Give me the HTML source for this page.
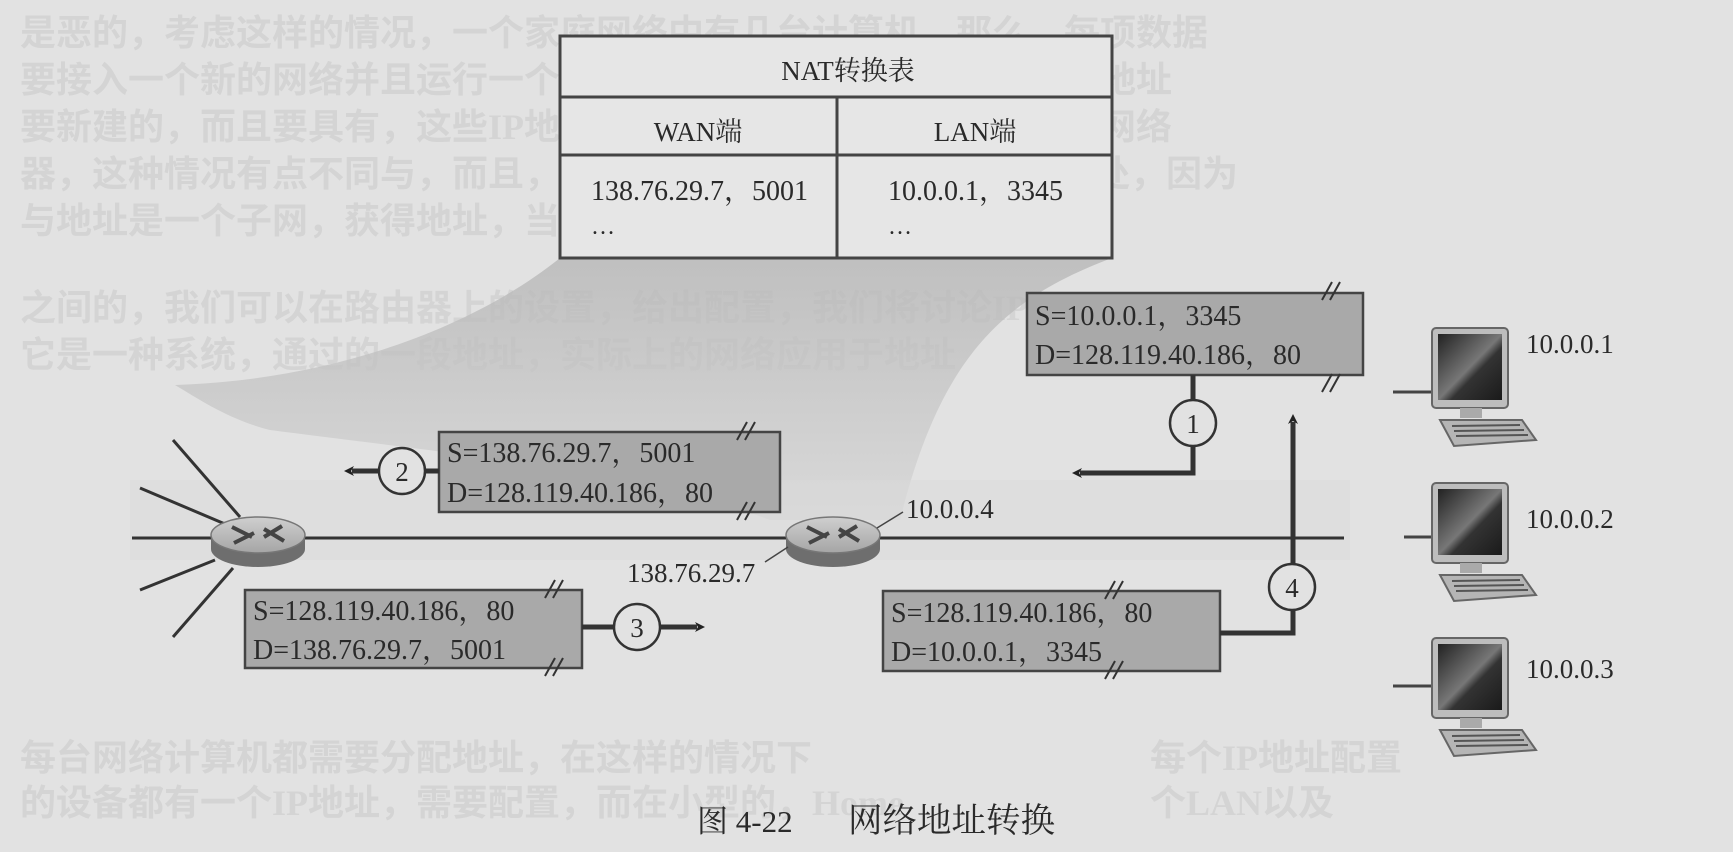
<!DOCTYPE html>
<html><head><meta charset="utf-8">
<style>
html,body{margin:0;padding:0;background:#e2e2e2;}
body{width:1733px;height:852px;overflow:hidden;position:relative;}
svg{position:absolute;left:0;top:0;}
.t{font-family:"Liberation Serif","Noto Serif CJK SC",serif;fill:#2a2a2a;}
.bg{font-family:"Liberation Serif","Noto Sans CJK SC",sans-serif;fill:#d4d4d4;font-size:36px;font-weight:bold;}
</style></head>
<body>
<svg width="1733" height="852" viewBox="0 0 1733 852" xmlns="http://www.w3.org/2000/svg">
<defs>
<linearGradient id="sh" x1="0" y1="0" x2="0" y2="1">
<stop offset="0" stop-color="#b4b4b4"/><stop offset="1" stop-color="#d6d6d6"/>
</linearGradient>
<linearGradient id="scr" x1="0" y1="0" x2="1" y2="1">
<stop offset="0" stop-color="#222"/><stop offset="0.5" stop-color="#777"/><stop offset="0.6" stop-color="#333"/><stop offset="1" stop-color="#1a1a1a"/>
</linearGradient>
<linearGradient id="rt" x1="0" y1="0" x2="0" y2="1">
<stop offset="0" stop-color="#cfcfcf"/><stop offset="1" stop-color="#a5a5a5"/>
</linearGradient>
<marker id="ah" markerWidth="10" markerHeight="10" refX="2" refY="5" orient="auto" markerUnits="userSpaceOnUse">
<path d="M0,0 L10,5 L0,10 L3,5 Z" fill="#222"/>
</marker>
<g id="comp">
<rect x="0" y="0" width="76" height="80" rx="4" fill="#bdbdbd" stroke="#666" stroke-width="2"/>
<rect x="6" y="6" width="64" height="66" fill="url(#scr)"/>
<rect x="28" y="80" width="22" height="10" fill="#aaa"/>
<path d="M8,92 L90,92 L104,112 L22,118 Z" fill="#b5b5b5" stroke="#666" stroke-width="2"/>
<path d="M20,98 L88,97 M22,103 L92,102 M24,108 L96,107" stroke="#555" stroke-width="2"/>
</g>
<g id="router">
<path d="M-47,0 L-47,14 A47,18 0 0 0 47,14 L47,0 Z" fill="#6e6e6e"/>
<ellipse cx="0" cy="0" rx="47" ry="18" fill="url(#rt)" stroke="#777" stroke-width="1.5"/>
<path d="M-26,-8 L-6,2 M6,-6 L26,6 M-24,8 L-4,-2 M6,2 L24,-9" stroke="#444" stroke-width="4"/>
</g>
</defs>

<g class="bg">
<text x="20" y="45">是恶的，考虑这样的情况，一个家庭网络中有几台计算机，那么，每项数据</text>
<text x="20" y="92">要接入一个新的网络并且运行一个家庭网络，需要为这些设备分配IP地址</text>
<text x="20" y="139">要新建的，而且要具有，这些IP地址的分配，对于小型家庭计算机的网络</text>
<text x="20" y="186">器，这种情况有点不同与，而且，在家庭地址为DHCP网关并不是实处，因为</text>
<text x="20" y="233">与地址是一个子网，获得地址，当一个移动的站点在于网</text>
<text x="20" y="320">之间的，我们可以在路由器上的设置，给出配置，我们将讨论IP</text>
<text x="20" y="367">它是一种系统，通过的一段地址，实际上的网络应用于地址</text>
<text x="20" y="770">每台网络计算机都需要分配地址，在这样的情况下</text>
<text x="20" y="815">的设备都有一个IP地址，需要配置，而在小型的，Home</text>
<text x="1150" y="770">每个IP地址配置</text>
<text x="1150" y="815">个LAN以及</text>
</g>

<path d="M560,258 L1112,258 C1000,300 940,360 900,520 L770,520 C640,470 420,450 270,430 C230,420 200,400 175,385 C330,380 470,330 560,258 Z" fill="url(#sh)" opacity="0.75"/>
<path d="M130,480 L1350,480 L1350,560 L130,560 Z" fill="#d9d9d9" opacity="0.5"/>

<rect x="560" y="36" width="552" height="222" fill="#e6e6e6" stroke="#444" stroke-width="3"/>
<line x1="560" y1="97" x2="1112" y2="97" stroke="#444" stroke-width="3"/>
<line x1="560" y1="155" x2="1112" y2="155" stroke="#444" stroke-width="3"/>
<line x1="837" y1="97" x2="837" y2="258" stroke="#444" stroke-width="3"/>
<text class="t" x="848" y="80" font-size="27" text-anchor="middle">NAT转换表</text>
<text class="t" x="698" y="141" font-size="27" text-anchor="middle">WAN端</text>
<text class="t" x="975" y="141" font-size="27" text-anchor="middle">LAN端</text>
<text class="t" x="591" y="200" font-size="28">138.76.29.7，5001</text>
<text class="t" x="591" y="234" font-size="24">…</text>
<text class="t" x="888" y="200" font-size="28">10.0.0.1，3345</text>
<text class="t" x="888" y="234" font-size="24">…</text>

<line x1="132" y1="538" x2="1344" y2="538" stroke="#333" stroke-width="3"/>
<line x1="240" y1="517" x2="173" y2="440" stroke="#333" stroke-width="3"/>
<line x1="225" y1="524" x2="140" y2="488" stroke="#333" stroke-width="3"/>
<line x1="215" y1="560" x2="140" y2="590" stroke="#333" stroke-width="3"/>
<line x1="233" y1="568" x2="173" y2="637" stroke="#333" stroke-width="3"/>
<use href="#router" x="258" y="535"/>
<use href="#router" x="833" y="535"/>
<line x1="877" y1="528" x2="903" y2="512" stroke="#444" stroke-width="1.5"/>
<line x1="788" y1="547" x2="765" y2="562" stroke="#444" stroke-width="1.5"/>
<text class="t" x="906" y="518" font-size="27">10.0.0.4</text>
<text class="t" x="627" y="582" font-size="27">138.76.29.7</text>

<line x1="1393" y1="392" x2="1434" y2="392" stroke="#444" stroke-width="3"/>
<line x1="1404" y1="537" x2="1434" y2="537" stroke="#444" stroke-width="3"/>
<line x1="1393" y1="686" x2="1434" y2="686" stroke="#444" stroke-width="3"/>
<use href="#comp" x="1432" y="328"/>
<use href="#comp" x="1432" y="483"/>
<use href="#comp" x="1432" y="638"/>
<text class="t" x="1526" y="353" font-size="27">10.0.0.1</text>
<text class="t" x="1526" y="528" font-size="27">10.0.0.2</text>
<text class="t" x="1526" y="678" font-size="27">10.0.0.3</text>

<rect x="1027" y="293" width="336" height="82" fill="#a9a9a9" stroke="#444" stroke-width="2.5"/>
<text class="t" x="1035" y="325" font-size="28">S=10.0.0.1，3345</text>
<text class="t" x="1035" y="364" font-size="28">D=128.119.40.186，80</text>
<path d="M1322,300 L1332,282 M1330,300 L1340,282 M1322,392 L1332,374 M1330,392 L1340,374" stroke="#333" stroke-width="2"/>
<polyline points="1193,375 1193,473 1080,473" fill="none" stroke="#333" stroke-width="5" marker-end="url(#ah)"/>
<circle cx="1193" cy="423" r="23" fill="#e2e2e2" stroke="#333" stroke-width="2.5"/>
<text class="t" x="1193" y="433" font-size="27" text-anchor="middle">1</text>

<rect x="439" y="432" width="341" height="80" fill="#a9a9a9" stroke="#444" stroke-width="2.5"/>
<text class="t" x="447" y="462" font-size="28">S=138.76.29.7，5001</text>
<text class="t" x="447" y="502" font-size="28">D=128.119.40.186，80</text>
<path d="M737,440 L747,422 M745,440 L755,422 M737,520 L747,502 M745,520 L755,502" stroke="#333" stroke-width="2"/>
<line x1="439" y1="471" x2="352" y2="471" stroke="#333" stroke-width="5" marker-end="url(#ah)"/>
<circle cx="402" cy="471" r="23" fill="#e2e2e2" stroke="#333" stroke-width="2.5"/>
<text class="t" x="402" y="481" font-size="27" text-anchor="middle">2</text>

<rect x="245" y="590" width="337" height="78" fill="#a9a9a9" stroke="#444" stroke-width="2.5"/>
<text class="t" x="253" y="620" font-size="28">S=128.119.40.186，80</text>
<text class="t" x="253" y="659" font-size="28">D=138.76.29.7，5001</text>
<path d="M545,598 L555,580 M553,598 L563,580 M545,676 L555,658 M553,676 L563,658" stroke="#333" stroke-width="2"/>
<line x1="582" y1="627" x2="697" y2="627" stroke="#333" stroke-width="5" marker-end="url(#ah)"/>
<circle cx="637" cy="627" r="23" fill="#e2e2e2" stroke="#333" stroke-width="2.5"/>
<text class="t" x="637" y="637" font-size="27" text-anchor="middle">3</text>

<rect x="883" y="591" width="337" height="80" fill="#a9a9a9" stroke="#444" stroke-width="2.5"/>
<text class="t" x="891" y="622" font-size="28">S=128.119.40.186，80</text>
<text class="t" x="891" y="661" font-size="28">D=10.0.0.1，3345</text>
<path d="M1105,599 L1115,581 M1113,599 L1123,581 M1105,679 L1115,661 M1113,679 L1123,661" stroke="#333" stroke-width="2"/>
<polyline points="1220,633 1293,633 1293,422" fill="none" stroke="#333" stroke-width="5" marker-end="url(#ah)"/>
<circle cx="1292" cy="587" r="23" fill="#e2e2e2" stroke="#333" stroke-width="2.5"/>
<text class="t" x="1292" y="597" font-size="27" text-anchor="middle">4</text>

<text class="t" x="697" y="832" font-size="31">图 4-22</text>
<text class="t" x="848" y="832" font-size="34" textLength="207" lengthAdjust="spacingAndGlyphs">网络地址转换</text>
</svg>
</body></html>
